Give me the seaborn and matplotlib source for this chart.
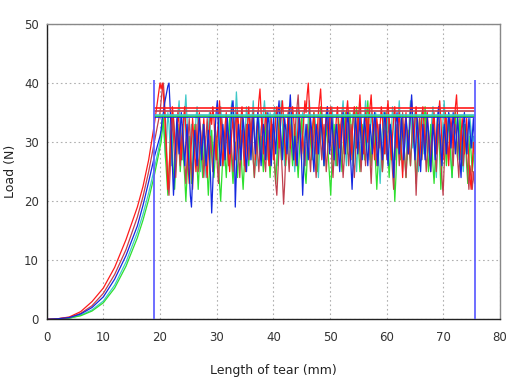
import numpy as np
import pandas as pd
import matplotlib
matplotlib.use("Agg")
import matplotlib.pyplot as plt
import seaborn as sns

# ---- data ----
ramp_x = [0, 2, 4, 6, 8, 10, 12, 14, 16, 17, 18, 19, 20]

red_ramp = [0, 0.1, 0.4, 1.3, 3.0, 5.3, 8.8, 13.5, 19.0, 22.5, 27.0, 33.0, 40.0]
brown_ramp = [0, 0.1, 0.3, 1.0, 2.3, 4.4, 7.6, 11.8, 17.3, 20.8, 25.0, 30.0, 35.0]
blue_ramp = [0, 0.1, 0.3, 0.9, 2.0, 3.8, 6.8, 10.8, 15.8, 19.3, 23.3, 27.5, 31.0]
cyan_ramp = [0, 0, 0.2, 0.7, 1.6, 3.1, 5.8, 9.7, 14.7, 17.8, 21.4, 25.5, 30.0]
green_ramp = [0, 0, 0.2, 0.6, 1.4, 2.8, 5.3, 9.0, 13.8, 16.8, 20.3, 24.4, 29.0]

red_tail = [
    39, 40, 38, 35, 31, 27, 22, 25, 29, 33, 36, 34, 31, 28, 32, 35, 33, 30, 27, 31,
    34, 36, 32, 29, 26, 23, 27, 30, 34, 31, 28, 25, 29, 33, 35, 32, 28, 31, 34, 30,
    27, 24, 28, 32, 35, 33, 36, 34, 30, 27, 31, 34, 37, 33, 29, 26, 30, 33, 35, 31,
    28, 25, 29, 32, 34, 30, 27, 31, 35, 33, 29, 34, 36, 32, 28, 25, 30, 33, 36, 32,
    29, 33, 35, 31, 27, 30, 34, 37, 39, 35, 31, 28, 32, 35, 33, 29, 26, 30, 34, 31,
    27, 31, 34, 36, 33, 29, 32, 35, 37, 34, 30, 27, 31, 35, 33, 29, 33, 36, 34, 30,
    26, 30, 33, 35, 32, 28, 31, 34, 37, 35, 38, 40, 36, 32, 29, 33, 35, 31, 28, 32,
    35, 37, 39, 35, 31, 28, 32, 35, 33, 30, 33, 36, 34, 30, 27, 31, 34, 36, 32, 29,
    33, 35, 31, 28, 32, 35, 37, 34, 30, 27, 31, 34, 36, 33, 29, 32, 35, 38, 34, 31,
    28, 32, 35, 33, 30, 34, 36, 38, 34, 30, 27, 31, 34, 32, 29, 33, 36, 34, 31, 28,
    32, 35, 37, 33, 30, 27, 31, 34, 36, 32, 29, 33, 35, 31, 28, 24, 29, 33, 35, 31,
    28, 32, 35, 37, 33, 30, 34, 36, 32, 29, 26, 30, 34, 36, 33, 29, 32, 35, 31, 28,
    25, 29, 33, 35, 31, 28, 32, 35, 37, 34, 30, 27, 31, 35, 33, 29, 26, 31, 34, 32,
    29, 33, 36, 38, 34, 30, 27, 31, 34, 32, 28, 31, 34, 30, 27, 24, 22, 26, 30, 28,
]
brown_tail = [
    37, 39, 40, 37, 33, 28, 23, 21, 25, 30, 34, 31, 27, 24, 28, 32, 29, 26, 30, 33,
    30, 27, 23, 27, 31, 34, 30, 26, 22, 26, 30, 33, 29, 25, 28, 32, 30, 27, 24, 28,
    31, 34, 30, 27, 31, 28, 25, 29, 33, 30, 26, 23, 27, 31, 34, 31, 27, 30, 33, 29,
    26, 29, 32, 28, 25, 29, 33, 35, 31, 28, 24, 28, 32, 29, 26, 30, 33, 30, 27, 31,
    34, 31, 27, 24, 28, 31, 28, 25, 29, 32, 34, 30, 27, 25, 29, 32, 29, 26, 30, 33,
    30, 27, 23, 21, 25, 29, 32, 28, 24, 19.5, 23, 28, 31, 28, 25, 29, 33, 30, 27, 31,
    34, 36, 38, 34, 30, 27, 31, 29, 26, 30, 33, 31, 28, 25, 29, 32, 30, 27, 24, 28,
    31, 34, 30, 27, 31, 33, 29, 25, 28, 32, 35, 31, 27, 24, 28, 32, 29, 26, 30, 33,
    31, 28, 24, 27, 31, 34, 30, 26, 29, 33, 31, 27, 24, 28, 32, 35, 31, 28, 25, 29,
    32, 29, 26, 30, 34, 31, 27, 23, 28, 31, 34, 30, 26, 29, 33, 31, 28, 25, 29, 32,
    30, 27, 31, 34, 32, 28, 25, 22, 27, 31, 33, 30, 26, 29, 32, 35, 31, 27, 24, 28,
    31, 29, 26, 30, 33, 31, 28, 21, 26, 30, 34, 31, 27, 30, 33, 29, 25, 28, 32, 30,
    27, 31, 34, 32, 28, 25, 29, 33, 31, 27, 24, 21, 26, 30, 34, 31, 27, 30, 33, 29,
    26, 30, 33, 31, 27, 24, 28, 32, 30, 26, 29, 32, 28, 25, 22, 26, 24, 22, 25, 23,
]
green_tail = [
    30, 32, 34, 31, 27, 24, 21, 25, 29, 32, 28, 25, 22, 26, 30, 33, 29, 25, 28, 31,
    27, 24, 20, 24, 28, 31, 27, 23, 26, 30, 33, 29, 26, 22, 26, 30, 27, 24, 28, 31,
    28, 25, 21, 25, 29, 32, 28, 24, 27, 31, 29, 26, 23, 20, 24, 28, 31, 27, 24, 28,
    31, 34, 30, 26, 23, 27, 30, 27, 24, 28, 32, 29, 25, 22, 26, 30, 33, 29, 26, 30,
    33, 30, 27, 24, 28, 31, 34, 30, 27, 31, 28, 25, 29, 32, 35, 31, 28, 24, 28, 32,
    29, 26, 23, 27, 31, 34, 31, 27, 30, 33, 29, 26, 30, 33, 36, 32, 29, 26, 30, 33,
    30, 27, 24, 28, 31, 34, 31, 28, 25, 23, 27, 31, 34, 30, 27, 31, 35, 32, 28, 25,
    29, 33, 36, 32, 29, 26, 30, 33, 30, 27, 24, 21, 26, 30, 33, 29, 26, 30, 34, 31,
    28, 25, 29, 32, 35, 31, 28, 32, 35, 33, 29, 26, 30, 34, 36, 32, 28, 25, 29, 33,
    30, 27, 31, 34, 37, 33, 29, 26, 30, 33, 29, 26, 22, 26, 30, 33, 29, 25, 28, 32,
    35, 31, 28, 24, 28, 32, 29, 26, 20, 24, 29, 33, 30, 27, 31, 34, 30, 27, 24, 28,
    32, 29, 26, 30, 34, 31, 27, 23, 27, 31, 34, 30, 27, 30, 33, 36, 32, 28, 25, 29,
    33, 30, 26, 23, 27, 31, 34, 31, 28, 22, 26, 30, 33, 29, 26, 30, 34, 31, 27, 24,
    28, 32, 35, 31, 27, 31, 34, 30, 26, 29, 33, 30, 26, 23, 27, 31, 28, 25, 27, 30,
]
cyan_tail = [
    32, 34, 33, 30, 27, 31, 35, 33, 29, 26, 30, 34, 32, 28, 31, 35, 37, 33, 30, 27,
    31, 35, 38, 34, 30, 26, 30, 33, 31, 27, 30, 34, 36, 32, 28, 25, 29, 33, 30, 27,
    24, 28, 32, 35, 31, 28, 25, 29, 33, 31, 27, 30, 34, 36, 33, 29, 26, 30, 34, 32,
    28, 31, 35, 37, 33, 30, 34, 38.5, 35, 31, 27, 31, 35, 33, 29, 32, 36, 34, 30, 27,
    31, 34, 37, 33, 29, 26, 30, 34, 32, 28, 31, 35, 37, 34, 30, 27, 31, 35, 33, 29,
    32, 36, 34, 30, 26, 30, 34, 37, 33, 29, 26, 30, 33, 31, 27, 31, 35, 32, 28, 25,
    29, 33, 36, 33, 29, 32, 35, 33, 29, 26, 30, 34, 37, 33, 30, 27, 31, 34, 32, 28,
    24, 28, 32, 35, 31, 27, 30, 34, 36, 33, 29, 32, 36, 34, 30, 26, 30, 33, 31, 27,
    31, 35, 37, 33, 29, 26, 30, 34, 32, 28, 31, 35, 33, 29, 25, 29, 33, 36, 32, 28,
    31, 34, 37, 34, 30, 27, 31, 35, 33, 29, 32, 35, 33, 30, 26, 23, 28, 32, 35, 31,
    28, 31, 35, 33, 29, 32, 36, 34, 30, 27, 31, 34, 37, 33, 29, 25, 29, 33, 31, 27,
    30, 34, 37, 33, 29, 32, 35, 32, 28, 25, 29, 33, 35, 32, 28, 31, 35, 33, 29, 26,
    30, 34, 36, 32, 28, 24, 29, 33, 31, 27, 30, 34, 37, 33, 29, 32, 35, 31, 27, 24,
    28, 32, 35, 31, 27, 30, 34, 32, 28, 25, 29, 33, 31, 28, 31, 34, 32, 29, 31, 30,
]
blue_tail = [
    32, 34, 35, 36.5, 37.5, 38.5, 39.5, 40, 36, 31, 26, 21, 25, 30, 34, 31, 28, 32, 35, 32,
    29, 26, 30, 33, 29, 25, 21, 19, 24, 29, 32, 29, 26, 30, 34, 31, 27, 30, 33, 29,
    26, 29, 32, 28, 24, 18, 23, 28, 32, 35, 37, 33, 29, 26, 30, 33, 30, 27, 31, 34,
    31, 28, 32, 36, 37, 33, 19, 25, 30, 33, 30, 27, 31, 34, 32, 28, 25, 29, 33, 30,
    27, 31, 34, 31, 28, 32, 35, 32, 29, 26, 30, 33, 31, 27, 31, 35, 33, 29, 26, 30,
    34, 31, 28, 32, 35, 37, 33, 30, 27, 31, 34, 32, 28, 31, 35, 38, 34, 30, 27, 31,
    29, 26, 30, 34, 31, 27, 21, 26, 30, 33, 30, 27, 31, 34, 32, 28, 25, 29, 33, 31,
    28, 31, 34, 32, 29, 26, 30, 34, 36, 32, 28, 31, 34, 31, 27, 30, 33, 31, 28, 25,
    29, 33, 35, 31, 28, 31, 35, 33, 29, 26, 22, 27, 31, 34, 32, 28, 31, 34, 30, 27,
    31, 34, 32, 29, 26, 30, 33, 31, 28, 32, 35, 33, 29, 26, 30, 33, 30, 27, 31, 35,
    33, 29, 26, 30, 33, 31, 28, 24, 29, 33, 35, 32, 28, 31, 34, 31, 27, 30, 34, 32,
    28, 31, 35, 38, 34, 30, 27, 31, 34, 31, 28, 25, 29, 33, 30, 27, 31, 34, 32, 28,
    25, 29, 33, 31, 27, 30, 34, 36, 32, 29, 26, 30, 33, 31, 28, 31, 35, 33, 29, 32,
    35, 32, 28, 31, 34, 31, 27, 24, 29, 33, 35, 31, 28, 31, 34, 32, 29, 31, 34, 30,
]

# mean tear load per specimen (horizontal lines)
mean_loads = {"red": 35.8, "brown": 35.3, "cyan": 34.6, "green": 34.4, "blue": 34.2}
tear_start, tear_end = 19.0, 75.5

colors = {"cyan": "#3ec8c8", "green": "#2ee02e", "brown": "#c0404e",
          "red": "#ff1a1a", "blue": "#1428e0"}

series = {
    "cyan": (cyan_ramp, cyan_tail),
    "green": (green_ramp, green_tail),
    "brown": (brown_ramp, brown_tail),
    "red": (red_ramp, red_tail),
    "blue": (blue_ramp, blue_tail),
}

rows = []
for name, (ramp, tail) in series.items():
    xs = list(ramp_x) + list(np.linspace(20.2, 75.5, len(tail)))
    ys = list(ramp) + list(tail)
    for x, y in zip(xs, ys):
        rows.append({"specimen": name, "length": x, "load": y})
df = pd.DataFrame(rows)

# ---- plot ----
sns.set_style("white")
plt.rcParams["font.family"] = ["DejaVu Sans"]

fig = plt.figure(figsize=(5.14, 3.85), dpi=100)
ax = fig.add_axes([0.0908, 0.1706, 0.8820, 0.7671])

sns.lineplot(data=df, x="length", y="load", hue="specimen", palette=colors,
             hue_order=list(series.keys()), estimator=None, sort=False,
             units="specimen", linewidth=0.9, legend=False, ax=ax)

for name in ["blue", "green", "cyan", "brown", "red"]:
    ax.hlines(mean_loads[name], tear_start, tear_end, color=colors[name], linewidth=1.2, zorder=4)
ax.vlines([tear_start, tear_end], 0, 40.5, color="#6262ff", linewidth=1.3, zorder=5)

ax.set_xlim(0, 80)
ax.set_ylim(0, 50)
ax.set_xticks(range(0, 81, 10))
ax.set_yticks(range(0, 51, 10))
ax.set_xticks(range(5, 80, 10), minor=True)
ax.set_yticks(range(5, 50, 10), minor=True)
ax.tick_params(which="both", direction="inout", length=5, width=0.8, color="#222222",
               labelsize=8.5, labelcolor="#333333")
ax.tick_params(axis="x", pad=6)
ax.tick_params(axis="y", pad=3)
ax.grid(True, which="major", linestyle=(0, (1.5, 2.5)), color="#b0b0b0", linewidth=0.8)
ax.set_axisbelow(True)

for side in ["left", "bottom"]:
    ax.spines[side].set_color("#222222")
    ax.spines[side].set_linewidth(1.0)
for side in ["top", "right"]:
    ax.spines[side].set_color("#888888")
    ax.spines[side].set_linewidth(1.0)

ax.set_xlabel("Length of tear (mm)", fontsize=9, color="#222222", labelpad=14)
ax.set_ylabel("Load (N)", fontsize=9, color="#222222", labelpad=5)

fig.savefig("out.png", dpi=100)
